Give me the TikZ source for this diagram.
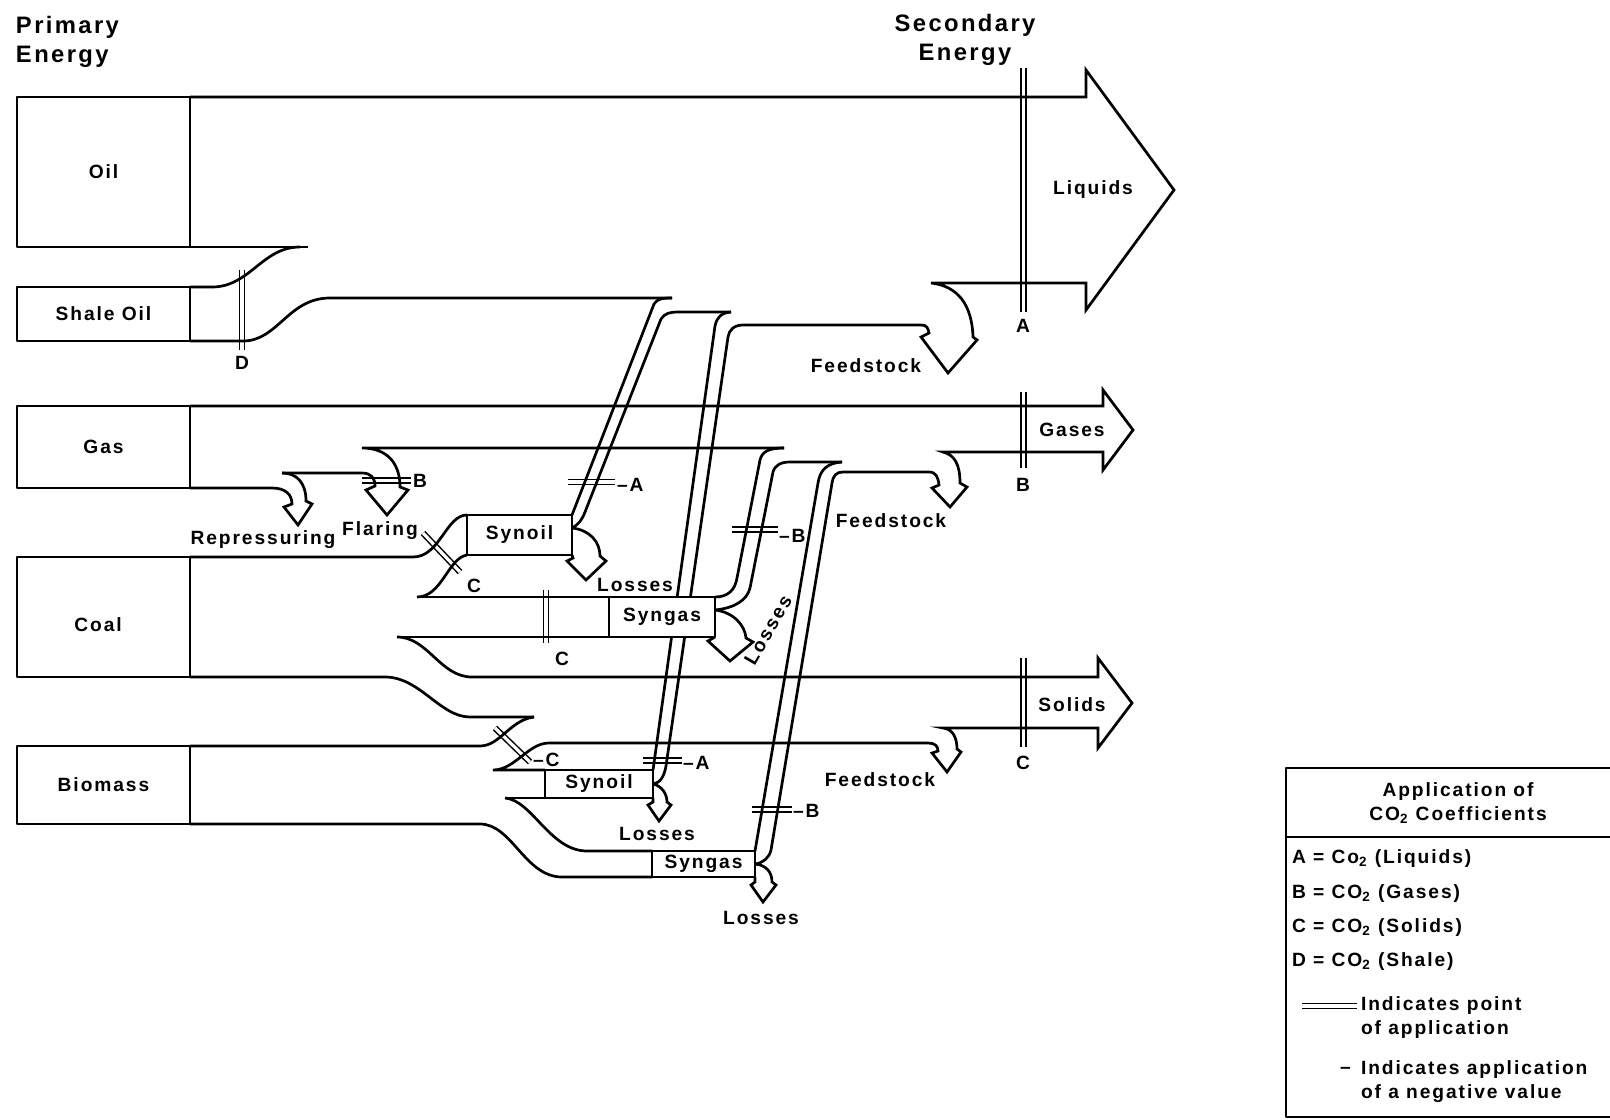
\documentclass[tikz,border=0pt]{standalone}
\usepackage{fontspec}
\setmainfont{Liberation Sans}[LetterSpace=10]
\usepackage{tikz}
\usetikzlibrary{backgrounds}
\newcommand{\cotwo}{CO\textsubscript{2}}

\begin{document}
\begin{tikzpicture}[x=0.5pt, y=-0.5pt, line join=round,
      font=\bfseries\fontsize{9.6}{12}\selectfont,
      every node/.style={inner sep=0pt, outer sep=0pt},
      flow/.style={line width=1.35pt},
      src/.style={draw, line width=1.3pt, minimum width=86.5pt},
      proc/.style={draw, line width=1.2pt, fill=white},
      coef/.style={double, double distance=1.6pt, line width=0.75pt},
      head/.style={align=center, font=\bfseries\fontsize{11.9}{14.5}\selectfont}]
    \useasboundingbox (0,0) rectangle (1610,1119);
    \node[head, anchor=west, align=left] (prim) at (16,42) {Primary\\Energy};
    \node[head] (sec) at (965,40) {Secondary\\Energy};
    \node[src, minimum height=75pt] (oil) at (103.5,172) {Oil};
    \node[src, minimum height=27pt] (shale) at (103.5,314) {Shale Oil};
    \node[src, minimum height=41pt] (gas) at (103.5,447) {Gas};
    \node[src, minimum height=60pt] (coal) at (103.5,617) {};
    \node (coalT) at (98,625) {Coal};
    \node[src, minimum height=39pt] (bio) at (103.5,785) {Biomass};
    \node[proc, minimum width=52.5pt, minimum height=20pt] (synC) at (519.5,535) {Synoil};
    \node[proc, minimum width=53pt, minimum height=20pt] (sygC) at (662,617) {Syngas};
    \node[proc, minimum width=54pt, minimum height=14pt] (synB) at (599,784) {Synoil};
    \node[proc, minimum width=51.5pt, minimum height=13pt] (sygB) at (703.5,864) {Syngas};
    \begin{scope}[on background layer]
      \draw[coef] (1023.5,68) -- (1023.5,312);
      \draw[coef] (1023.5,392) -- (1023.5,468);
      \draw[coef] (1023.5,658) -- (1023.5,747);
      \draw[coef] (242,270) -- (242,350);
      \draw[coef] (546,590) -- (546,643);
      \draw[coef] (423,533) -- (460,572);
      \draw[coef] (495,728) -- (530,762);
      \draw[coef] (362,480.5) -- (411,480.5);
      \draw[coef] (568,482) -- (615,482);
      \draw[coef] (732,529.5) -- (778,529.5);
      \draw[coef] (643,760.5) -- (682,760.5);
      \draw[coef] (752,809.5) -- (792,809.5);
      % liquids
      \draw[flow] (oil.north east) -- (1086,97) -- (1086,70) -- (1174,190) -- (1086,310) -- (1086,283) -- (931,283)
        .. controls (958,286) and (972,305) .. (973,337) -- (977,340) -- (948,373) -- (921,337) -- (929,333)
        .. controls (928,328) and (927,325) .. (921,325) -- (743,325)
        .. controls (734,325) and (729,330) .. (728,337) -- (666,766)
        .. controls (664,777) and (660,783) .. (synB.east);
      \draw[flow] (oil.south east) -- (308,247);
      \draw[flow] (shale.north east) -- (212,287) .. controls (250,287) and (262,247) .. (300,247);
      \draw[flow] (shale.south east) -- (243,341) .. controls (278,341) and (288,298) .. (330,298) -- (672,298);
      \draw[flow] (synC.north east) -- (654,304) .. controls (657,299) and (662,298) .. (672,298);
      \draw[flow] (572,528) .. controls (578,525) and (582,520) .. (585,512) -- (661,319)
        .. controls (665,313) and (670,312) .. (679,312) -- (731,312);
      \draw[flow] (synB.north east) -- (715,326) .. controls (717,317) and (721,313) .. (731,312);
      \draw[flow] (572,528) .. controls (590,530) and (600,542) .. (600,556) -- (606,561) -- (586,580)
        -- (567,561) -- (573,558) -- (synC.south east);
      \draw[flow] (synB.east) .. controls (662,786) and (667,794) .. (667,802) -- (671,805) -- (659,821)
        -- (648,805) -- (653,802) -- (synB.south east);
      % gases
      \draw[flow] (gas.north east) -- (1103,406) -- (1103,390) -- (1133,430) -- (1103,470) -- (1103,452) -- (943,452)
        .. controls (955,455) and (960,465) .. (960,483) -- (967,487) -- (950,507) -- (932,488) -- (939,485)
        .. controls (938,477) and (936,472) .. (929,472) -- (843,472)
        .. controls (836,472) and (833,476) .. (832,483) -- (771,850)
        .. controls (769,858) and (763,863) .. (sygB.east);
      \draw[flow] (gas.south east) -- (272,488) .. controls (286,488) and (292,495) .. (292,504) -- (284,507)
        -- (298,525) -- (312,504) -- (306,501) .. controls (306,483) and (297,473) .. (282,473);
      \draw[flow] (282,473) -- (362,473) .. controls (371,473) and (375,478) .. (375,486) -- (366,490)
        -- (387,515) -- (408,490) -- (400,487) .. controls (400,462) and (386,448) .. (362,448) -- (784,448);
      \draw[flow] (sygC.north east) .. controls (728,597) and (735,590) .. (737,578) -- (760,460)
        .. controls (762,452) and (768,448) .. (784,448);
      \draw[flow] (715,610) .. controls (735,608) and (747,600) .. (750,588) -- (773,472)
        .. controls (775,465) and (781,462) .. (790,462) -- (842,462);
      \draw[flow] (sygB.north east) -- (818,483) .. controls (820,470) and (827,463) .. (842,462);
      \draw[flow] (715,610) .. controls (733,612) and (745,625) .. (746,638) -- (753,642) -- (730,661)
        -- (708,641) -- (sygC.south east);
      \draw[flow] (sygB.east) .. controls (766,865) and (772,872) .. (772,882) -- (776,885) -- (763,902)
        -- (751,885) -- (755,882) -- (sygB.south east);
      % solids
      \draw[flow] (coal.north east) -- (413,557) .. controls (440,557) and (446,515) .. (synC.north west);
      \draw[flow] (417,597) .. controls (442,597) and (448,558) .. (synC.south west);
      \draw[flow] (417,597) -- (sygC.north west);
      \draw[flow] (397,637) -- (sygC.south west);
      \draw[flow] (397,637) .. controls (428,637) and (440,677) .. (472,677) -- (1098,677) -- (1098,658)
        -- (1132,703) -- (1098,748) -- (1098,728) -- (943,728)
        .. controls (953,729) and (957,738) .. (957,749) -- (961,752) -- (947,772) -- (932,753) -- (938,751)
        .. controls (938,746) and (935,743) .. (928,743) -- (549,743)
        .. controls (528,743) and (515,770) .. (493,770) -- (synB.north west);
      \draw[flow] (coal.south east) -- (385,677) .. controls (420,677) and (440,717) .. (470,717) -- (534,717);
      \draw[flow] (bio.north east) -- (480,746) .. controls (500,746) and (510,720) .. (534,717);
      \draw[flow] (505,798) -- (synB.south west);
      \draw[flow] (505,798) .. controls (532,800) and (550,851) .. (587,851) -- (sygB.north west);
      \draw[flow] (bio.south east) -- (480,824) .. controls (512,824) and (525,877) .. (562,877) -- (sygB.south west);
    \end{scope}
    \node (liq) at (1093,190) {Liquids};
    \node (gases) at (1072,430) {Gases};
    \node (sol) at (1072,705) {Solids};
    \node (fsL) at (866,366) {Feedstock};
    \node (fsG) at (891,521) {Feedstock};
    \node (fsS) at (880,780) {Feedstock};
    \node (rep) at (263,540) {Repressuring};
    \node (flr) at (380,531) {Flaring};
    \node (lsC) at (635,585) {Losses};
    \node[rotate=60] (lsG) at (768,630) {Losses};
    \node (lsB) at (657,834) {Losses};
    \node (lsS) at (761,918) {Losses};
    \node (pA) at (1023,326) {A};
    \node (pB) at (1023,485) {B};
    \node (pC) at (1023,763) {C};
    \node (pD) at (242,363) {D};
    \node (cSyn) at (474,586) {C};
    \node (cSyg) at (562,659) {C};
    \node[anchor=west] (cBio) at (533,760) {–C};
    \node[anchor=west] (bFlr) at (413,481) {B};
    \node[anchor=west] (aCoal) at (617,485) {–A};
    \node[anchor=west] (bCoal) at (779,536) {–B};
    \node[anchor=west] (aBio) at (683,763) {–A};
    \node[anchor=west] (bBio) at (793,811) {–B};
    % legend
    \draw[line width=1.2pt] (1610,768) -| (1286,1117) -- (1610,1117);
    \draw[line width=1.2pt] (1286,837) -- (1610,837);
    \node[align=center] (ltit) at (1458,803) {Application of\\\cotwo{} Coefficients};
    \node[anchor=west] (lgA) at (1292,859) {A = Co\textsubscript{2} (Liquids)};
    \node[anchor=west] (lgB) at (1292,894) {B = \cotwo{} (Gases)};
    \node[anchor=west] (lgC) at (1292,928) {C = \cotwo{} (Solids)};
    \node[anchor=west] (lgD) at (1292,962) {D = \cotwo{} (Shale)};
    \draw[coef] (1302,1006) -- (1357,1006);
    \node[anchor=west, align=left] (lgP) at (1361,1018) {Indicates point\\of application};
    \node[anchor=west] (lgM) at (1340,1070) {–};
    \node[anchor=west, align=left] (lgN) at (1361,1082) {Indicates application\\of a negative value};
  \end{tikzpicture}
\end{document}
